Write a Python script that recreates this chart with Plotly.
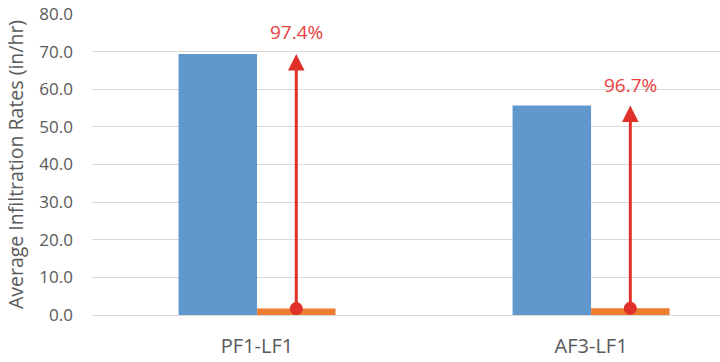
import plotly.graph_objects as go

categories = ["PF1-LF1", "AF3-LF1"]
before_values = [69.4, 55.7]
after_values = [1.7, 1.8]
reduction_labels = ["97.4%", "96.7%"]
label_values = [75.3, 61.1]
y_ticks = [0, 10, 20, 30, 40, 50, 60, 70, 80]

BW = 0.235
xs = list(range(len(categories)))
arrow_x = [x + BW / 2 for x in xs]
FONT = "Open Sans, Liberation Sans, sans-serif"

fig = go.Figure()
fig.add_trace(go.Bar(x=xs, y=before_values, width=BW, offset=-BW,
                     marker=dict(color="#6097cc", line=dict(width=0)), showlegend=False))
fig.add_trace(go.Bar(x=xs, y=after_values, width=BW, offset=0,
                     marker=dict(color="#ed7d31", line=dict(width=0)), showlegend=False))
fig.add_trace(go.Scatter(x=arrow_x, y=after_values, mode="markers",
                         marker=dict(color="#e0302a", size=13), showlegend=False,
                         cliponaxis=False))

for i in range(len(categories)):
    fig.add_annotation(x=arrow_x[i], y=before_values[i], ax=arrow_x[i], ay=after_values[i],
                       xref="x", yref="y", axref="x", ayref="y", text="",
                       showarrow=True, arrowhead=2, arrowsize=1.1, arrowwidth=3,
                       arrowcolor="#e0302a", standoff=0, startstandoff=0)
    fig.add_annotation(x=arrow_x[i], y=label_values[i], xref="x", yref="y",
                       text=reduction_labels[i], showarrow=False,
                       font=dict(family=FONT, size=19, color="#e8403c"))

fig.update_layout(
    width=720, height=362,
    margin=dict(l=92, r=0, t=14, b=47),
    paper_bgcolor="white", plot_bgcolor="white",
    barmode="overlay",
    font=dict(family=FONT, color="#595959"),
    xaxis=dict(range=[-0.494, 1.386], tickvals=xs, ticktext=categories,
               showgrid=False, zeroline=False, showline=False,
               tickfont=dict(size=20, color="#595959"), ticks="", ticklabelstandoff=17),
    yaxis=dict(range=[0, 80], tickvals=y_ticks,
               ticktext=[f"{v:.1f}" for v in y_ticks],
               showgrid=True, gridcolor="#d9d9d9", gridwidth=1.3,
               zeroline=True, zerolinecolor="#d9d9d9", zerolinewidth=1.3,
               showline=False, ticks="", ticklabelstandoff=18,
               tickfont=dict(size=17, color="#595959"),
               title=dict(text="Average Infiltration Rates (in/hr)",
                          font=dict(size=19.5, color="#595959"), standoff=10)),
)

fig.write_html("out.html")
